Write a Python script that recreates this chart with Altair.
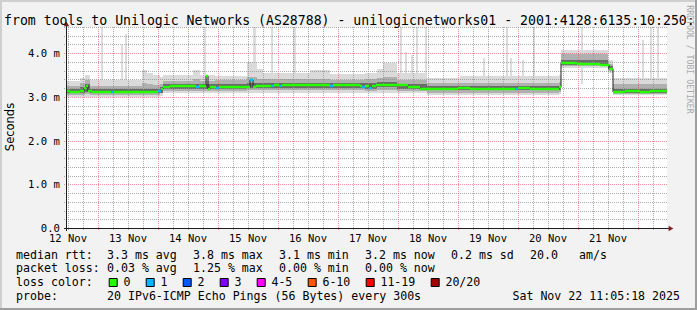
import altair as alt
import pandas as pd

# ---------------- values ----------------
title_text = "from tools to Unilogic Networks (AS28788) - unilogicnetworks01 - 2001:4128:6135:10:250:"
day_labels = ["12 Nov", "13 Nov", "14 Nov", "15 Nov", "16 Nov",
              "17 Nov", "18 Nov", "19 Nov", "20 Nov", "21 Nov"]
y_tick_values = [0, 1, 2, 3, 4]
y_tick_labels = ["0.0\u00a0\u00a0", "1.0 m", "2.0 m", "3.0 m", "4.0 m"]

loss_labels = ["0", "1", "2", "3", "4-5", "6-10", "11-19", "20/20"]
loss_colors = ["#26ff00", "#00b8ff", "#0059ff", "#7e00ff",
               "#ff00ff", "#ff5500", "#ff0000", "#a10000"]

# median rtt (ms) change points, hours since start, pings lost (of 20)
med_h = [0, 1.2, 5.2, 6.8, 7.6, 8.4, 10.0, 13.2, 17.6, 18.8,
         25.2, 29.2, 36.4, 37.6, 38.4, 41.2, 51.6, 52.8, 55.6, 56.4,
         57.2, 59.6, 60.8, 73.2, 74.4, 75.6, 81.6, 82.8, 84.8, 86.0,
         105.2, 106.4, 117.2, 118.0, 119.2, 120.8, 122.0, 123.6, 131.2, 136.4,
         141.2, 156.4, 161.2, 165.2, 175.2, 179.2, 180.4, 185.2, 191.2, 195.2,
         196.8, 197.6, 204.0, 213.2, 215.2, 216.8, 218.4, 223.2, 229.2, 233.2,
         237.2]
med_ms = [3.14, 3.12, 3.14, 3.20, 3.25, 3.13, 3.12, 3.11, 3.12, 3.12,
          3.11, 3.12, 3.13, 3.17, 3.23, 3.24, 3.23, 3.24, 3.47, 3.18,
          3.22, 3.21, 3.23, 3.38, 3.22, 3.26, 3.26, 3.27, 3.26, 3.27,
          3.26, 3.27, 3.24, 3.22, 3.26, 3.21, 3.25, 3.28, 3.27, 3.23,
          3.19, 3.20, 3.19, 3.18, 3.19, 3.19, 3.20, 3.19, 3.18, 3.17,
          3.22, 3.78, 3.75, 3.74, 3.72, 3.63, 3.12, 3.13, 3.12, 3.14,
          3.13]
med_loss = [0, 0, 0, 0, 0, 0, 0, 0, 1, 0,
            0, 0, 1, 0, 0, 0, 1, 0, 0, 0,
            0, 1, 0, 1, 0, 0, 1, 0, 1, 0,
            1, 0, 0, 1, 0, 1, 0, 0, 0, 0,
            0, 0, 0, 0, 0, 1, 0, 0, 0, 0,
            0, 0, 0, 0, 0, 0, 0, 0, 0, 0,
            0]

# smoke envelope (ms) change points
smoke_h = [0, 5.2, 7.2, 9.2, 30, 32, 34.4, 37.2, 38.4, 50.4,
           53.2, 59.2, 72, 76, 78.4, 97.2, 105.2, 119.2, 124, 126.4,
           132, 144, 157.2, 166.4, 196.8, 197.6, 216.4, 218.4]
outer_hi = [3.36, 3.43, 3.50, 3.39, 3.61, 3.55, 3.50, 3.45, 3.50, 3.61,
            3.50, 3.48, 3.80, 3.65, 3.55, 3.61, 3.52, 3.55, 3.65, 3.77,
            3.55, 3.44, 3.47, 3.47, 3.50, 4.07, 3.85, 3.44]
outer_lo = [3.00, 3.00, 3.00, 3.00, 3.00, 3.00, 3.00, 3.02, 3.08, 3.08,
            3.08, 3.08, 3.08, 3.08, 3.08, 3.08, 3.08, 3.08, 3.08, 3.08,
            3.08, 3.04, 3.04, 3.04, 3.06, 3.66, 3.55, 3.04]
mid_hi = [3.26, 3.32, 3.38, 3.26, 3.32, 3.30, 3.28, 3.30, 3.36, 3.40,
          3.36, 3.38, 3.46, 3.42, 3.40, 3.42, 3.38, 3.40, 3.44, 3.46,
          3.38, 3.32, 3.32, 3.32, 3.34, 3.98, 3.76, 3.30]
mid_lo = [3.05, 3.05, 3.07, 3.05, 3.05, 3.05, 3.05, 3.08, 3.14, 3.14,
          3.14, 3.14, 3.16, 3.16, 3.16, 3.16, 3.16, 3.14, 3.16, 3.16,
          3.14, 3.10, 3.10, 3.10, 3.12, 3.70, 3.60, 3.07]
dark_hi = [3.19, 3.23, 3.29, 3.18, 3.19, 3.19, 3.19, 3.22, 3.29, 3.29,
           3.29, 3.29, 3.32, 3.32, 3.32, 3.32, 3.31, 3.31, 3.33, 3.33,
           3.30, 3.24, 3.24, 3.24, 3.26, 3.85, 3.70, 3.19]
dark_lo = [3.09, 3.09, 3.11, 3.08, 3.08, 3.08, 3.08, 3.10, 3.19, 3.19,
           3.19, 3.19, 3.21, 3.21, 3.21, 3.21, 3.21, 3.19, 3.22, 3.22,
           3.19, 3.15, 3.15, 3.15, 3.16, 3.72, 3.62, 3.09]

# single slow pings (ms), hours since start
spike_h = [14, 22, 23.6, 55.2, 75, 82, 91, 133.6, 135.6, 138,
           140, 143.6, 166.8, 176, 177.6, 182.4, 186.8, 206, 230.4, 233.6,
           236.4]
spike_top = [4.9, 4.18, 4.43, 4.9, 4.9, 4.9, 4.9, 4.9, 4.02, 3.95,
             4.9, 4.9, 3.90, 4.9, 3.88, 3.85, 4.9, 4.9, 4.30, 4.9,
             4.9]

rtt_stats = ["3.3 ms avg", "3.8 ms max", "3.1 ms min", "3.2 ms now", "0.2 ms sd", "20.0", "am/s"]
loss_stats = ["0.03 % avg", "1.25 % max", "0.00 % min", "0.00 % now"]
probe_text = "20 IPv6-ICMP Echo Pings (56 Bytes) every 300s"
stamp_text = "Sat Nov 22 11:05:18 2025"
watermark = "RRDTOOL / TOBI OETIKER"

# ---------------- layout ----------------
W, H = 600, 201
LEFT, TOP = 67, 27
X_MAX = 240.0
Y_MAX = 4.6
MONO = "DejaVu Sans Mono"
DUMMY = pd.DataFrame({"a": [0]})

xs = alt.Scale(domain=[0, X_MAX], nice=False, zero=False, round=True)
ys = alt.Scale(domain=[0, Y_MAX], nice=False, zero=False, round=True)


def X(f):
    return alt.X(f, type="quantitative", scale=xs, axis=None)


def Y(f):
    return alt.Y(f, type="quantitative", scale=ys, axis=None)


def loss_class(n):
    if n <= 3:
        return loss_labels[n]
    if n <= 5:
        return "4-5"
    if n <= 10:
        return "6-10"
    if n <= 19:
        return "11-19"
    return "20/20"


def txt(s, x_abs, y_abs, size=11.6, align="left", baseline="alphabetic",
        color="#000000", font=MONO, angle=0):
    return alt.Chart(DUMMY).mark_text(
        font=font, fontSize=size, align=align, baseline=baseline,
        color=color, angle=angle
    ).encode(x=alt.value(x_abs - LEFT), y=alt.value(y_abs - TOP), text=alt.value(s))


layers = []

# spikes (max pings above the plot)
spk = pd.DataFrame({"h": spike_h, "top": spike_top})
layers.append(
    alt.Chart(spk).mark_rect(color="#DCDCDC", clip=True)
    .transform_calculate(a="datum.h - 0.5", b="datum.h + 0.5", base="3.3")
    .encode(x=X("a:Q"), x2="b:Q", y=Y("base:Q"), y2="top:Q")
)

# smoke bands
smoke = pd.DataFrame({
    "h": smoke_h + [X_MAX],
    "olo": outer_lo + [outer_lo[-1]], "ohi": outer_hi + [outer_hi[-1]],
    "mlo": mid_lo + [mid_lo[-1]], "mhi": mid_hi + [mid_hi[-1]],
    "dlo": dark_lo + [dark_lo[-1]], "dhi": dark_hi + [dark_hi[-1]],
})
for lo, hi, col in [("olo", "ohi", "#DADADA"), ("mlo", "mhi", "#B0B0B0"), ("dlo", "dhi", "#6A6A6A")]:
    layers.append(
        alt.Chart(smoke).mark_area(interpolate="step-after", color=col, opacity=1)
        .encode(x=X("h:Q"), y=Y(lo + ":Q"), y2=alt.Y2(hi + ":Q"))
    )

# grid
minor_v = [round(0.4 + 6 * k, 1) for k in range(40) if k % 4 != 2]
major_v = [round(12.4 + 24 * k, 1) for k in range(10)]
minor_hz = [round(0.2 * k, 1) for k in range(1, 24) if k % 5 != 0]
major_hz = [1, 2, 3, 4]
GRID = "rgba(143,143,143,0.75)"
MGRID = "rgba(222,79,79,0.6)"
for vals, col in [(minor_v, GRID), (major_v, MGRID)]:
    layers.append(
        alt.Chart(pd.DataFrame({"h": vals})).mark_rule(color=col, strokeWidth=1, strokeDash=[1, 1], xOffset=0.5)
        .encode(x=X("h:Q"), y=alt.value(0), y2=alt.value(H + 3))
    )
for vals, col in [(minor_hz, GRID), (major_hz, MGRID)]:
    layers.append(
        alt.Chart(pd.DataFrame({"v": vals})).mark_rule(color=col, strokeWidth=1, strokeDash=[1, 1], yOffset=0.5)
        .encode(y=Y("v:Q"), x=alt.value(-3), x2=alt.value(W))
    )

# median: black step line + loss-coloured segments
med = pd.DataFrame({"h": med_h, "v": med_ms, "cls": [loss_class(n) for n in med_loss]})
med["h2"] = med["h"].shift(-1).fillna(X_MAX)
med_line = pd.concat([med[["h", "v"]], pd.DataFrame({"h": [X_MAX], "v": [med_ms[-1]]})], ignore_index=True)
layers.append(
    alt.Chart(med_line).mark_line(interpolate="step-after", color="#202020", strokeWidth=1)
    .encode(x=X("h:Q"), y=Y("v:Q"))
)
layers.append(
    alt.Chart(med).mark_rule(strokeWidth=2.5)
    .encode(x=X("h:Q"), x2="h2:Q", y=Y("v:Q"),
            color=alt.Color("cls:N", scale=alt.Scale(domain=loss_labels, range=loss_colors), legend=None))
)

# axes lines and arrows
AXIS = "#1F1F1F"
layers.append(alt.Chart(DUMMY).mark_rule(color=AXIS, strokeWidth=1)
              .encode(x=alt.value(-0.5), y=alt.value(-4), y2=alt.value(H + 3)))
layers.append(alt.Chart(DUMMY).mark_rule(color=AXIS, strokeWidth=1)
              .encode(y=alt.value(H + 0.5), x=alt.value(-3), x2=alt.value(W + 4)))
layers.append(alt.Chart(DUMMY).mark_point(shape="triangle-up", filled=True, size=30, color="#801F1F", opacity=1)
              .encode(x=alt.value(-0.5), y=alt.value(-3)))
layers.append(alt.Chart(DUMMY).mark_point(shape="triangle-right", filled=True, size=30, color="#801F1F", opacity=1)
              .encode(x=alt.value(W + 4), y=alt.value(H + 0.5)))

# axis labels
ylab = pd.DataFrame({"v": y_tick_values, "t": y_tick_labels})
layers.append(
    alt.Chart(ylab).mark_text(font=MONO, fontSize=10.6, align="right", baseline="middle", dy=0.5)
    .encode(y=Y("v:Q"), x=alt.value(-7), text="t:N")
)
xlab = pd.DataFrame({"h": [0.4 + 24 * k for k in range(len(day_labels))], "t": day_labels})
layers.append(
    alt.Chart(xlab).mark_text(font=MONO, fontSize=10.5, align="center", baseline="alphabetic")
    .encode(x=X("h:Q"), y=alt.value(241.7 - TOP), text="t:N")
)

# titles / watermark
layers.append(txt(title_text, 4, 24.5, size=13.2))
layers.append(txt("Seconds", 11, 127, size=11.5, align="center", baseline="middle",
                  font="DejaVu Sans", angle=270))
layers.append(txt(watermark, 688.5, 59.5, size=8.2, align="center", baseline="middle",
                  color="#A8A8A8", angle=90))

# legend
col_x = [107, 193, 279, 365, 451, 530, 579]
rows_y = [258.5, 272.2, 286.0, 299.7]
layers.append(txt("median rtt:", 16, rows_y[0]))
for s, cx in zip(rtt_stats, col_x):
    layers.append(txt(s, cx, rows_y[0]))
layers.append(txt("packet loss:", 16, rows_y[1]))
for s, cx in zip(loss_stats, col_x):
    layers.append(txt(s, cx, rows_y[1]))
layers.append(txt("loss color:", 16, rows_y[2]))
bx = 108.7
for lab, col in zip(loss_labels, loss_colors):
    layers.append(
        alt.Chart(DUMMY).mark_rect(color=col, stroke="#000000", strokeWidth=1)
        .encode(x=alt.value(bx - LEFT + 0.5), x2=alt.value(bx - LEFT + 8.5),
                y=alt.value(278.5 - TOP), y2=alt.value(286.5 - TOP))
    )
    layers.append(txt(lab, bx + 14.7, rows_y[2]))
    bx += 14.7 + 7.0 * len(lab) + 15.3
layers.append(txt("probe:", 16, rows_y[3]))
layers.append(txt(probe_text, 107, rows_y[3]))
layers.append(txt(stamp_text, 680, rows_y[3], align="right"))

# 3D frame
SHADE_A, SHADE_B = "#CFCFCF", "#9E9E9E"
layers.append(alt.Chart(DUMMY).mark_rule(color=SHADE_A, strokeWidth=2)
              .encode(x=alt.value(-LEFT), x2=alt.value(697 - LEFT), y=alt.value(1 - TOP)))
layers.append(alt.Chart(DUMMY).mark_rule(color=SHADE_A, strokeWidth=2)
              .encode(y=alt.value(-TOP), y2=alt.value(310 - TOP), x=alt.value(1 - LEFT)))
layers.append(alt.Chart(DUMMY).mark_rule(color=SHADE_B, strokeWidth=2)
              .encode(x=alt.value(-LEFT), x2=alt.value(697 - LEFT), y=alt.value(309 - TOP)))
layers.append(alt.Chart(DUMMY).mark_rule(color=SHADE_B, strokeWidth=2)
              .encode(y=alt.value(-TOP), y2=alt.value(310 - TOP), x=alt.value(696 - LEFT)))

chart = alt.layer(*layers).properties(
    width=W, height=H,
    background="#F2F2F2",
    padding={"left": LEFT, "top": TOP, "right": 697 - LEFT - W, "bottom": 310 - TOP - H},
    autosize=alt.AutoSizeParams(type="none"),
).configure_view(stroke=None, fill="white")

chart.save("out.html", embed_options={"renderer": "svg", "actions": False})
